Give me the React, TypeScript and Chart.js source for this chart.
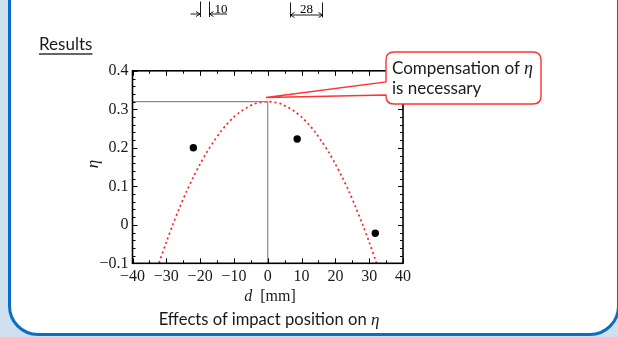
import React, { useEffect, useRef } from 'react';
import { Chart, registerables } from 'chart.js';
Chart.register(...registerables);

// Measured points: impact position d [mm] vs efficiency eta
const MEASURED_D = [-22, 8.7, 31.8];
const MEASURED_ETA = [0.2, 0.223, -0.022];

// Fitted (parabolic) curve
const FIT_D = [-34, -32, -30, -28, -26, -24, -22, -20, -18, -16, -14, -12, -10, -8, -6, -4, -2, 0, 2, 4, 6, 8, 10, 12, 14, 16, 18, 20, 22, 24, 26, 28, 30, 32, 34];
const FIT_ETA = [-0.148, -0.095, -0.045, 0.002, 0.046, 0.087, 0.124, 0.158, 0.189, 0.216, 0.241, 0.262, 0.28, 0.294, 0.305, 0.314, 0.318, 0.32, 0.318, 0.314, 0.305, 0.294, 0.28, 0.262, 0.241, 0.216, 0.189, 0.158, 0.124, 0.087, 0.046, 0.002, -0.045, -0.095, -0.148];

// Peak guide lines
const GUIDE_D = [-40, 0, 0];
const GUIDE_ETA = [0.32, 0.32, -0.1];

// Axis ticks
const X_TICKS = [-40, -30, -20, -10, 0, 10, 20, 30, 40];
const Y_TICKS = [-0.1, 0, 0.1, 0.2, 0.3, 0.4];
const X_MINOR_STEP = 5;
const Y_MINOR_STEP = 0.02;

const fmt = (v: number) => (v === 0 ? '0' : (v < 0 ? '\u2212' : '') + String(Math.abs(v)));

const framePlugin = {
  id: 'frameTicks',
  afterDraw(chart: any) {
    const { ctx, chartArea: a, scales } = chart;
    const xs = scales.x, ys = scales.y;
    ctx.save();
    ctx.strokeStyle = '#000';
    ctx.lineWidth = 1;
    const seg = (x1: number, y1: number, x2: number, y2: number) => {
      ctx.beginPath(); ctx.moveTo(x1, y1); ctx.lineTo(x2, y2); ctx.stroke();
    };
    for (let i = 0; xs.min + i * X_MINOR_STEP <= xs.max + 1e-9; i++) {
      const v = xs.min + i * X_MINOR_STEP;
      const major = X_TICKS.some((t) => Math.abs(t - v) < 1e-6);
      const len = major ? 5 : 3;
      const px = Math.round(xs.getPixelForValue(v)) + 0.5;
      seg(px, a.bottom, px, a.bottom - len);
      seg(px, a.top, px, a.top + len);
    }
    for (let i = 0; ys.min + i * Y_MINOR_STEP <= ys.max + 1e-9; i++) {
      const v = ys.min + i * Y_MINOR_STEP;
      const major = Y_TICKS.some((t) => Math.abs(t - v) < 1e-6);
      const len = major ? 5 : 3;
      const py = Math.round(ys.getPixelForValue(v)) + 0.5;
      seg(a.left, py, a.left + len, py);
      seg(a.right, py, a.right - len, py);
    }
    ctx.lineWidth = 1.6;
    ctx.strokeRect(a.left, a.top, a.right - a.left, a.bottom - a.top);
    ctx.restore();
  },
};

function ChartCanvas() {
  const ref = useRef<HTMLCanvasElement | null>(null);
  useEffect(() => {
    if (!ref.current) return;
    const chart = new Chart(ref.current, {
      type: 'scatter',
      data: {
        datasets: [
          {
            label: 'guide',
            data: GUIDE_D.map((d, i) => ({ x: d, y: GUIDE_ETA[i] })),
            showLine: true,
            borderColor: '#8a8a8a',
            borderWidth: 1.2,
            pointRadius: 0,
            fill: false,
          },
          {
            label: 'fit',
            data: FIT_D.map((d, i) => ({ x: d, y: FIT_ETA[i] })),
            showLine: true,
            borderColor: '#ff1f1f',
            borderWidth: 1.7,
            borderDash: [2, 3],
            pointRadius: 0,
            tension: 0.3,
            fill: false,
          },
          {
            label: 'measured',
            data: MEASURED_D.map((d, i) => ({ x: d, y: MEASURED_ETA[i] })),
            backgroundColor: '#000',
            borderColor: '#000',
            pointRadius: 3.7,
            borderWidth: 0,
          },
        ],
      },
      options: {
        responsive: false,
        animation: false,
        devicePixelRatio: 1,
        layout: { padding: { left: 92.5, right: 215, top: 70.8, bottom: 43.7 } },
        plugins: { legend: { display: false }, tooltip: { enabled: false } },
        scales: {
          x: {
            type: 'linear',
            min: -40,
            max: 40,
            afterBuildTicks: (s: any) => { s.ticks = X_TICKS.map((v) => ({ value: v })); },
            afterFit: (s: any) => { s.height = 30; },
            grid: { display: false, drawTicks: false },
            border: { display: false },
            ticks: {
              callback: (v: any) => fmt(Number(v)),
              color: '#1a1a1a',
              padding: 4,
              maxRotation: 0,
              font: { family: '"Liberation Serif", "DejaVu Serif", serif', size: 16 },
            },
          },
          y: {
            type: 'linear',
            min: -0.1,
            max: 0.4,
            afterBuildTicks: (s: any) => { s.ticks = Y_TICKS.map((v) => ({ value: v })); },
            afterFit: (s: any) => { s.width = 40; },
            grid: { display: false, drawTicks: false },
            border: { display: false },
            ticks: {
              callback: (v: any) => fmt(Number(v)),
              color: '#1a1a1a',
              padding: 4,
              font: { family: '"Liberation Serif", "DejaVu Serif", serif', size: 16 },
            },
          },
        },
      },
      plugins: [framePlugin],
    } as any);
    return () => chart.destroy();
  }, []);
  return <canvas ref={ref} width={618} height={337} style={{ position: 'absolute', left: 0, top: 0, width: 618, height: 337 }} />;
}

const SANS = 'Lato, "Open Sans", sans-serif';
const SERIF = '"Liberation Serif", "DejaVu Serif", serif';
const RED = '#ff3333';

export default function App() {
  return (
    <div style={{ position: 'fixed', left: 0, top: 0, width: 618, height: 337, overflow: 'hidden', background: '#cfe0f1' }}>
      <div style={{ position: 'absolute', left: 7.5, top: -40, width: 612, height: 375.7, boxSizing: 'border-box', border: '3px solid #0b6ec0', borderRadius: 30, background: '#fff' }} />
      <ChartCanvas />
      <svg width={618} height={337} style={{ position: 'absolute', left: 0, top: 0 }}>
        {/* dimension marks cut from the figure above */}
        <g stroke="#000" strokeWidth={0.9} fill="none">
          <line x1={190.5} y1={14} x2={200} y2={14} />
          <path d="M196 11.5 L200 14 L196 16.5" />
          <line x1={200.5} y1={1.5} x2={200.5} y2={17} />
          <line x1={209.5} y1={1.5} x2={209.5} y2={17} />
          <line x1={209.5} y1={14} x2={227} y2={14} />
          <path d="M213.5 11.5 L209.5 14 L213.5 16.5" />
          <line x1={290.5} y1={2.5} x2={290.5} y2={17.5} />
          <line x1={322.5} y1={2.5} x2={322.5} y2={17.5} />
          <line x1={290.5} y1={15} x2={322.5} y2={15} />
          <path d="M294.5 12.5 L290.5 15 L294.5 17.5" />
          <path d="M318.5 12.5 L322.5 15 L318.5 17.5" />
        </g>
        <text x={214.5} y={12.5} fontFamily={SERIF} fontSize={13} fill="#000">10</text>
        <text x={300} y={13} fontFamily={SERIF} fontSize={13} fill="#000">28</text>
        {/* callout */}
        <path
          d="M394 52 H533 Q541 52 541 60 V96 Q541 104 533 104 H394 Q386 104 386 96 V95 L266 97.5 L386 82 V60 Q386 52 394 52 Z"
          fill="#fff"
          stroke={RED}
          strokeWidth={1.4}
        />
      </svg>
      <div style={{ position: 'absolute', left: 392, top: 58, fontFamily: SANS, fontSize: 17, lineHeight: '20px', color: '#1a1a1a', whiteSpace: 'nowrap' }}>
        <div>Compensation of <span style={{ fontFamily: SERIF, fontStyle: 'italic', fontSize: 18 }}>η</span></div>
        <div>is necessary</div>
      </div>
      <div style={{ position: 'absolute', left: 39, top: 34, fontFamily: SANS, fontSize: 17, lineHeight: '20px', color: '#1a1a1a', textDecoration: 'underline', textDecorationColor: '#666', textDecorationThickness: '2px', textUnderlineOffset: '3px', whiteSpace: 'nowrap' }}>
        Results
      </div>
      <div style={{ position: 'absolute', left: 92, top: 164, transform: 'translate(-50%, -50%) rotate(-90deg)', fontFamily: SERIF, fontStyle: 'italic', fontSize: 17, lineHeight: '17px', color: '#1a1a1a' }}>
        η
      </div>
      <div style={{ position: 'absolute', left: 270, top: 296, transform: 'translate(-50%, -50%)', fontFamily: SERIF, fontSize: 16, lineHeight: '18px', color: '#1a1a1a', whiteSpace: 'nowrap' }}>
        <span style={{ fontStyle: 'italic' }}>d</span>&nbsp; [mm]
      </div>
      <div style={{ position: 'absolute', left: 269, top: 319, transform: 'translate(-50%, -50%)', fontFamily: SANS, fontSize: 16.6, lineHeight: '18px', color: '#1a1a1a', whiteSpace: 'nowrap' }}>
        Effects of impact position on <span style={{ fontFamily: SERIF, fontStyle: 'italic', fontSize: 17 }}>η</span>
      </div>
    </div>
  );
}
